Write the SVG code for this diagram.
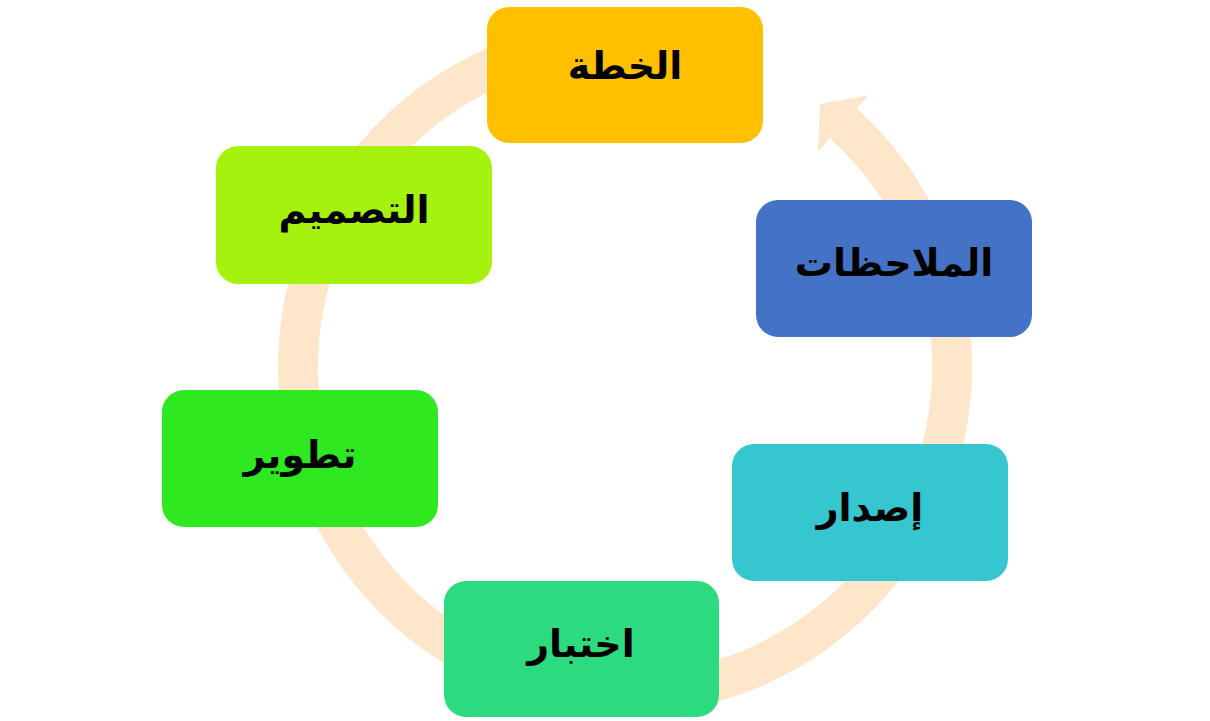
<svg xmlns="http://www.w3.org/2000/svg" width="1210" height="721" viewBox="0 0 1210 721">
<style>
.box{stroke:none}
.lbl{font-family:"DejaVu Sans","Noto Sans",sans-serif;font-weight:bold;font-size:38px;fill:#000;text-anchor:middle;dominant-baseline:central}
.ring{fill:none;stroke:#FEE6CA;stroke-width:40}
</style>
<rect width="1210" height="721" fill="#fff"/>
<g id="connectors">
<path class="ring" d="M625,40 A327,327 0 1 0 843.3,123.5"/>
<polygon points="868.7,95.2 820,104 817.9,151.8" fill="#FEE6CA"/>
</g>
<g id="n-plan"><rect class="box" x="487" y="7" width="276" height="136" rx="22" fill="#FFC000"/><text class="lbl" x="625" y="66">الخطة</text></g>
<g id="n-design"><rect class="box" x="216" y="146" width="276" height="138" rx="22" fill="#A6F20F"/><text class="lbl" x="354" y="210">التصميم</text></g>
<g id="n-feedback"><rect class="box" x="756" y="200" width="276" height="137" rx="22" fill="#4472C4"/><text class="lbl" x="894" y="263">الملاحظات</text></g>
<g id="n-develop"><rect class="box" x="162" y="390" width="276" height="137" rx="22" fill="#2EE820"/><text class="lbl" x="300" y="455">تطوير</text></g>
<g id="n-release"><rect class="box" x="732" y="444" width="276" height="137" rx="22" fill="#36C6D0"/><text class="lbl" x="870" y="508">إصدار</text></g>
<g id="n-test"><rect class="box" x="444" y="581" width="275" height="136" rx="22" fill="#2CDB80"/><text class="lbl" x="581" y="644">اختبار</text></g>
</svg>
